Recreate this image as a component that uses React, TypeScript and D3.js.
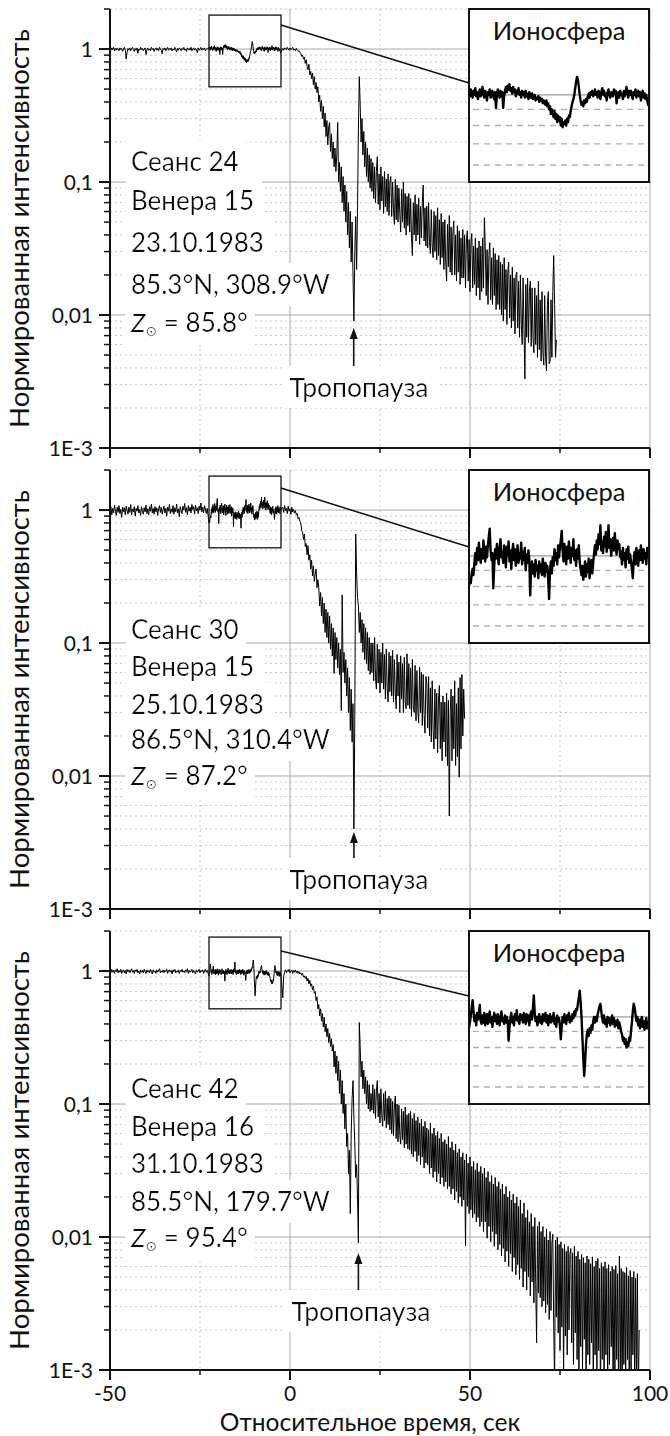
import React from 'react';
import * as d3 from 'd3';

// ---------------- data ----------------
const X_MAJOR = [-50, 0, 50, 100];
const X_MINOR = [-25, 25, 75];
const X_LABELS = ['-50', '0', '50', '100'];
const Y_MAJOR = [1, 0.1, 0.01, 0.001];
const Y_LABELS = ['1', '0,1', '0,01', '1E-3'];
const Y_DOMAIN = [0.001, 2];
const T_DOMAIN = [-50, 100];
const ZOOM_T = [-22.5, -2.5];
const ZOOM_I_MAIN = [0.52, 1.8];
const ZOOM_I_INSET = [0.53, 1.87];
const INSET_GRID_SOLID = [1];
const INSET_GRID_DASHED = [0.9, 0.8, 0.7, 0.6];

const SESSIONS = ['Сеанс 24', 'Сеанс 30', 'Сеанс 42'];
const PROBES = ['Венера 15', 'Венера 15', 'Венера 16'];
const DATES = ['23.10.1983', '25.10.1983', '31.10.1983'];
const COORDS = ['85.3°N, 308.9°W', '86.5°N, 310.4°W', '85.5°N, 179.7°W'];
const ZENITH = ['85.8°', '87.2°', '95.4°'];
const INSET_TITLE = 'Ионосфера';
const TROPO_LABEL = 'Тропопауза';
const Y_TITLE = 'Нормированная интенсивность';
const X_TITLE = 'Относительное время, сек';

// sampling of the series (seconds)
const PRE_T0 = -50, PRE_DT = 0.25;
const IONO_T0 = -22.5, IONO_DT = 0.1;
const POST_T0 = -2, POST_DT = 0.25;

// ---- Session 24 ----
const PRE_24 = [
  1.00, 0.98, 1.02, 0.99, 1.03, 0.97, 1.01, 0.98, 1.02, 1.00,
  0.97, 1.02, 0.99, 1.01, 0.96, 1.00, 1.03, 0.98, 0.84, 0.95,
  1.01, 0.98, 1.02, 0.97, 1.00, 1.03, 0.99, 0.96, 1.01, 0.98,
  1.02, 0.93, 1.00, 0.98, 1.03, 0.99, 1.01, 0.97, 1.00, 1.02,
  0.91, 0.99, 1.02, 0.98, 1.00, 0.97, 1.03, 0.99, 1.01, 0.96,
  1.00, 1.02, 0.98, 1.01, 0.97, 1.03, 1.00, 0.98, 0.92, 1.01,
  0.99, 1.02, 0.97, 1.00, 1.03, 0.98, 1.01, 0.99, 1.02, 0.97,
  1.00, 0.98, 1.03, 0.99, 0.95, 1.01, 0.98, 1.02, 1.00, 0.97,
  1.01, 0.99, 1.03, 0.98, 1.00, 0.96, 1.02, 0.99, 1.01, 0.98,
  1.03, 0.97, 1.00, 1.02, 0.98, 1.01, 0.99, 0.94, 1.02, 0.98,
  1.00, 1.03, 0.98, 1.01, 0.99, 1.02, 0.97, 1.00, 1.01,
];
const IONO_24 = [
  1.02, 0.99, 1.04, 1.01, 0.98, 1.03, 1.00, 1.05, 0.99, 1.02, 0.97, 1.01, 1.04, 0.99, 1.02, 1.06, 1.00, 0.98, 1.03, 1.01,
  0.96, 1.02, 1.00, 1.04, 0.98, 1.01, 1.03, 0.99, 0.97, 1.02, 0.91, 1.00, 1.04, 1.01, 0.98, 1.03, 0.99, 1.02, 0.91, 0.99,
  1.03, 1.06, 1.02, 1.07, 1.04, 1.08, 1.03, 1.05, 1.01, 1.06, 1.02, 1.04, 0.99, 1.03, 1.01, 1.05, 1.00, 1.02, 0.98, 1.03,
  1.00, 1.02, 0.98, 1.03, 0.99, 1.01, 0.97, 1.02, 1.00, 0.98, 1.01, 0.97, 0.99, 1.00, 0.96, 0.98, 0.97, 0.99, 0.95, 0.98,
  0.96, 0.97, 0.94, 0.96, 0.95, 0.93, 0.96, 0.92, 0.94, 0.90, 0.92, 0.87, 0.90, 0.88, 0.85, 0.89, 0.84, 0.87, 0.82, 0.86,
  0.83, 0.85, 0.80, 0.84, 0.79, 0.82, 0.81, 0.83, 0.80, 0.84, 0.82, 0.86, 0.85, 0.89, 0.92, 0.95, 0.97, 1.00, 1.05, 1.10,
  1.14, 1.12, 1.06, 1.00, 0.96, 0.93, 0.95, 0.92, 0.96, 0.94, 0.97, 0.95, 0.99, 1.01, 0.98, 1.02, 1.00, 1.03, 0.99, 1.01,
  1.04, 1.00, 1.02, 0.98, 1.03, 1.01, 0.97, 1.02, 1.05, 1.00, 1.03, 0.99, 1.01, 0.96, 1.02, 1.04, 1.00, 0.98, 1.02, 1.01,
  0.99, 1.04, 1.01, 1.03, 0.94, 1.00, 1.02, 0.98, 1.03, 1.00, 1.01, 0.97, 1.03, 0.99, 1.02, 1.06, 1.01, 0.98, 1.03, 1.00,
  1.03, 0.99, 0.97, 1.02, 1.00, 1.04, 0.98, 1.01, 1.03, 0.99, 1.02, 0.96, 1.00, 1.03, 0.98, 1.01, 0.97, 1.00, 0.96, 0.93,
  0.95,
];
const POST_24 = [
  1.01, 0.98, 1.02, 1.00, 0.99, 1.03, 1.00, 0.98, 1.02, 0.99, 1.01, 1.03, 0.98, 1.00, 0.97, 1.01, 0.98, 0.96, 0.97, 0.94,
  0.93, 0.88, 0.90, 0.84, 0.87, 0.78, 0.83, 0.74, 0.70, 0.77, 0.64, 0.68, 0.60, 0.66, 0.54, 0.62, 0.50, 0.56, 0.47, 0.52,
  0.40, 0.45, 0.34, 0.41, 0.30, 0.37, 0.26, 0.33, 0.22, 0.29, 0.19, 0.26, 0.28, 0.17, 0.23, 0.15, 0.20, 0.13, 0.18, 0.12,
  0.16, 0.28, 0.10, 0.14, 0.085, 0.13, 0.07, 0.11, 0.06, 0.095, 0.05, 0.085, 0.04, 0.07, 0.032, 0.06, 0.025, 0.05, 0.02, 0.009,
  0.03, 0.055, 0.022, 0.06, 0.25, 0.62, 0.38, 0.2, 0.3, 0.16, 0.24, 0.13, 0.2, 0.11, 0.18, 0.1, 0.16, 0.09, 0.15, 0.085,
  0.14, 0.075, 0.13, 0.07, 0.12, 0.155, 0.068, 0.115, 0.062, 0.13, 0.072, 0.11, 0.058, 0.12, 0.065, 0.105, 0.06, 0.115, 0.056, 0.1,
  0.11, 0.055, 0.1, 0.062, 0.048, 0.105, 0.052, 0.095, 0.05, 0.09, 0.058, 0.042, 0.088, 0.05, 0.1, 0.045, 0.082, 0.04, 0.078, 0.047,
  0.082, 0.042, 0.075, 0.038, 0.028, 0.07, 0.04, 0.08, 0.036, 0.068, 0.04, 0.076, 0.034, 0.066, 0.038, 0.07, 0.095, 0.036, 0.064, 0.033,
  0.066, 0.032, 0.07, 0.035, 0.029, 0.062, 0.033, 0.027, 0.06, 0.03, 0.056, 0.026, 0.064, 0.028, 0.052, 0.024, 0.058, 0.027, 0.05, 0.022,
  0.052, 0.025, 0.018, 0.048, 0.023, 0.056, 0.021, 0.046, 0.02, 0.042, 0.051, 0.02, 0.04, 0.018, 0.047, 0.021, 0.043, 0.017, 0.038, 0.019,
  0.044, 0.019, 0.04, 0.016, 0.036, 0.043, 0.018, 0.037, 0.015, 0.035, 0.041, 0.016, 0.033, 0.017, 0.038, 0.014, 0.032, 0.016, 0.036, 0.013,
  0.033, 0.015, 0.038, 0.016, 0.054, 0.032, 0.014, 0.031, 0.012, 0.028, 0.035, 0.013, 0.027, 0.012, 0.032, 0.014, 0.029, 0.011, 0.026, 0.012,
  0.028, 0.011, 0.025, 0.01, 0.024, 0.009, 0.027, 0.011, 0.022, 0.0085, 0.021, 0.025, 0.0095, 0.02, 0.008, 0.023, 0.009, 0.019, 0.0072, 0.02,
  0.021, 0.008, 0.018, 0.0068, 0.02, 0.0085, 0.006, 0.019, 0.0078, 0.0033, 0.017, 0.0068, 0.019, 0.0062, 0.015, 0.018, 0.0058, 0.016, 0.0068, 0.0052,
  0.016, 0.006, 0.014, 0.0048, 0.018, 0.0055, 0.013, 0.0045, 0.015, 0.0052, 0.0042, 0.014, 0.0048, 0.0038, 0.012, 0.015, 0.0043, 0.0045, 0.013, 0.0048,
  0.015, 0.028, 0.012, 0.0048, 0.0065,
];

// ---- Session 30 ----
const PRE_30 = [
  0.97, 1.06, 0.92, 1.03, 0.95, 1.09, 0.98, 0.91, 1.05, 0.96,
  1.08, 0.94, 1.01, 0.88, 1.05, 0.97, 1.04, 0.92, 1.07, 0.99,
  0.93, 1.05, 0.96, 1.10, 0.92, 1.02, 0.97, 1.06, 0.90, 1.03,
  0.98, 1.08, 0.95, 1.01, 0.91, 1.06, 0.99, 0.93, 1.04, 0.97,
  1.09, 0.94, 1.02, 0.92, 1.06, 0.98, 1.11, 0.95, 1.03, 0.93,
  1.06, 0.97, 1.04, 0.91, 1.02, 1.08, 0.96, 1.05, 0.93, 1.01,
  1.07, 0.95, 1.03, 0.90, 1.05, 0.98, 1.10, 0.94, 1.02, 0.96,
  1.08, 0.93, 1.04, 0.97, 1.11, 0.95, 1.02, 0.89, 1.06, 0.99,
  0.94, 1.07, 1.00, 1.12, 0.96, 1.04, 0.92, 1.08, 0.98, 1.05,
  0.95, 1.10, 1.01, 1.06, 0.93, 1.09, 0.99, 1.04, 0.94, 1.07,
  1.00, 1.13, 0.97, 1.05, 0.95, 1.08, 1.02, 0.94, 1.03,
];
const IONO_30 = [
  0.80, 0.84, 0.82, 0.88, 0.91, 0.87, 0.95, 1.02, 0.94, 1.06, 0.97, 1.10, 1.01, 0.95, 1.05, 0.98, 1.12, 1.03, 0.96, 1.07,
  0.99, 1.08, 1.15, 1.22, 1.04, 0.97, 1.02, 0.79, 0.93, 1.05, 0.98, 1.09, 1.01, 0.94, 1.06, 1.13, 0.99, 1.03, 0.95, 1.08,
  1.02, 0.92, 1.07, 1.00, 1.11, 0.96, 1.04, 0.91, 1.03, 1.09, 0.97, 1.05, 0.93, 1.00, 1.08, 0.95, 1.02, 0.98, 1.10, 0.94,
  1.03, 0.97, 1.06, 0.90, 1.01, 0.95, 1.04, 0.98, 0.75, 0.92, 0.96, 0.88, 0.94, 0.86, 0.97, 0.90, 0.93, 0.85, 0.96, 0.89,
  0.94, 0.87, 0.98, 0.91, 0.86, 0.95, 0.89, 0.93, 0.84, 0.73, 0.90, 0.96, 0.88, 0.99, 0.93, 1.05, 0.97, 1.02, 0.94, 1.08,
  0.99, 1.06, 1.12, 1.20, 1.04, 0.96, 1.09, 1.01, 0.94, 1.07, 0.98, 1.11, 1.03, 0.95, 1.06, 1.00, 1.13, 0.97, 1.04, 0.93,
  1.05, 0.98, 1.08, 0.96, 0.91, 0.87, 0.93, 0.84, 0.90, 0.96, 0.86, 0.94, 0.89, 0.98, 0.85, 0.92, 0.97, 0.88, 0.95, 1.02,
  1.08, 1.01, 1.12, 1.05, 1.17, 1.09, 1.25, 1.04, 1.11, 1.02, 1.15, 1.07, 1.19, 1.03, 1.10, 1.25, 1.06, 1.13, 1.00, 1.09,
  1.14, 1.04, 1.18, 1.07, 1.01, 1.12, 1.05, 1.09, 0.99, 1.03, 0.94, 1.06, 0.97, 1.02, 0.92, 1.05, 0.98, 1.07, 0.95, 1.01,
  0.96, 0.91, 0.85, 0.97, 1.03, 0.94, 1.06, 0.99, 0.93, 1.04, 0.97, 1.08, 1.00, 0.95, 1.05, 0.98, 1.02, 0.94, 1.06, 0.99,
  1.01,
];
const POST_30 = [
  1.05, 0.96, 1.08, 0.99, 1.03, 0.94, 1.07, 0.98, 1.02, 0.93, 1.05, 0.97, 1.01, 0.95, 0.99, 0.92, 0.94, 0.86, 0.88, 0.82,
  0.8, 0.7, 0.68, 0.6, 0.66, 0.53, 0.56, 0.46, 0.54, 0.42, 0.46, 0.36, 0.42, 0.32, 0.38, 0.29, 0.33, 0.36, 0.26, 0.3,
  0.26, 0.19, 0.24, 0.16, 0.22, 0.14, 0.2, 0.12, 0.18, 0.11, 0.17, 0.1, 0.16, 0.09, 0.14, 0.08, 0.13, 0.059, 0.12, 0.075,
  0.11, 0.065, 0.1, 0.058, 0.09, 0.031, 0.23, 0.06, 0.085, 0.05, 0.075, 0.04, 0.065, 0.03, 0.055, 0.022, 0.045, 0.018, 0.035, 0.004,
  0.028, 0.66, 0.34, 0.22, 0.19, 0.12, 0.17, 0.1, 0.15, 0.085, 0.14, 0.075, 0.13, 0.07, 0.12, 0.062, 0.11, 0.058, 0.1, 0.06,
  0.1, 0.052, 0.11, 0.055, 0.045, 0.098, 0.05, 0.09, 0.042, 0.085, 0.05, 0.1, 0.045, 0.082, 0.038, 0.09, 0.046, 0.036, 0.085, 0.043,
  0.08, 0.04, 0.088, 0.036, 0.075, 0.042, 0.032, 0.082, 0.04, 0.072, 0.03, 0.08, 0.038, 0.07, 0.03, 0.078, 0.036, 0.032, 0.083, 0.034,
  0.07, 0.032, 0.065, 0.028, 0.075, 0.033, 0.03, 0.068, 0.026, 0.062, 0.031, 0.025, 0.066, 0.03, 0.06, 0.024, 0.058, 0.029, 0.021, 0.056,
  0.05, 0.023, 0.056, 0.02, 0.046, 0.018, 0.052, 0.022, 0.016, 0.045, 0.019, 0.042, 0.015, 0.038, 0.048, 0.016, 0.036, 0.013, 0.04, 0.018,
  0.036, 0.014, 0.042, 0.012, 0.037, 0.005, 0.03, 0.045, 0.013, 0.04, 0.016, 0.052, 0.012, 0.035, 0.014, 0.046, 0.0098, 0.055, 0.016, 0.058,
  0.02, 0.045, 0.027,
];

// ---- Session 42 ----
const PRE_42 = [
  1.00, 0.97, 1.03, 0.98, 1.01, 0.96, 1.02, 0.99, 1.04, 0.97,
  1.01, 0.98, 1.03, 0.96, 1.00, 1.02, 0.97, 1.01, 0.95, 1.03,
  0.99, 1.02, 0.97, 1.00, 1.04, 0.98, 1.01, 0.96, 1.02, 0.99,
  1.03, 0.97, 1.00, 0.95, 1.02, 0.98, 1.01, 0.97, 1.03, 0.99,
  0.96, 1.02, 0.98, 1.01, 0.97, 1.03, 0.99, 0.95, 1.02, 0.98,
  1.00, 0.96, 1.02, 0.98, 1.01, 1.04, 0.97, 1.00, 0.98, 1.02,
  0.97, 1.01, 0.99, 1.03, 0.96, 1.00, 1.02, 0.98, 1.01, 0.95,
  1.02, 0.99, 1.03, 0.97, 1.00, 0.98, 1.02, 0.96, 1.01, 0.99,
  1.03, 0.98, 1.00, 0.97, 1.02, 0.99, 1.04, 0.96, 1.01, 0.98,
  1.00, 1.03, 0.97, 1.01, 0.99, 0.95, 1.02, 0.98, 1.00, 1.03,
  0.97, 1.01, 0.99, 1.02, 0.96, 1.00, 1.03, 0.98, 1.01,
];
const IONO_42 = [
  0.92, 0.96, 1.01, 1.07, 1.13, 1.04, 0.97, 1.01, 0.94, 1.03, 0.98, 1.02, 1.09, 0.97, 0.95, 1.01, 0.96, 1.03, 0.94, 0.99,
  1.02, 0.95, 0.99, 1.04, 0.96, 1.00, 0.93, 0.98, 1.03, 0.97, 1.01, 0.95, 1.02, 0.98, 0.94, 1.00, 1.04, 0.97, 0.99, 0.95,
  1.01, 0.96, 1.00, 0.97, 0.84, 0.93, 0.99, 1.03, 0.96, 1.00, 0.94, 1.02, 0.98, 1.05, 0.97, 1.00, 0.95, 1.02, 0.98, 1.01,
  0.96, 1.03, 0.99, 0.95, 1.02, 0.97, 1.01, 0.94, 1.00, 1.04, 0.98, 1.06, 1.17, 1.03, 0.97, 1.00, 0.94, 0.99, 1.02, 0.96,
  1.00, 0.95, 1.02, 0.97, 0.99, 1.03, 0.96, 1.01, 0.94, 0.98, 1.02, 0.96, 1.00, 0.97, 1.03, 0.95, 0.99, 0.93, 1.01, 0.97,
  0.99, 0.94, 0.85, 0.93, 1.00, 0.96, 1.02, 0.97, 0.95, 1.01, 0.98, 1.03, 0.96, 1.00, 0.97, 1.02, 0.99, 1.04, 1.01, 1.06,
  1.05, 1.10, 1.15, 1.21, 1.12, 1.00, 0.86, 0.74, 0.65, 0.72, 0.82, 0.88, 0.91, 0.87, 0.92, 0.89, 0.94, 0.91, 0.97, 1.00,
  0.96, 1.00, 0.97, 1.02, 1.05, 1.08, 1.10, 1.04, 0.99, 0.96, 1.01, 0.95, 0.98, 0.93, 1.00, 0.96, 0.99, 0.94, 0.98, 1.01,
  0.95, 0.99, 0.93, 0.97, 0.94, 0.98, 0.92, 0.96, 0.93, 0.90, 0.88, 0.84, 0.86, 0.82, 0.85, 0.80, 0.83, 0.81, 0.86, 0.84,
  0.90, 0.96, 1.04, 1.10, 1.07, 1.02, 0.97, 1.00, 0.94, 0.98, 0.92, 0.96, 1.00, 0.93, 0.97, 0.91, 0.95, 0.99, 0.92, 0.96,
  0.94,
];
const POST_42 = [
  0.63, 0.92, 0.98, 1.02, 0.97, 1.01, 0.99, 1.03, 0.97, 1.00, 1.02, 0.96, 1.01, 0.98, 1.02, 0.97, 1.00, 0.96, 0.99, 0.95,
  0.97, 0.93, 0.96, 0.9, 0.92, 0.88, 0.91, 0.84, 0.88, 0.8, 0.85, 0.77, 0.8, 0.72, 0.77, 0.68, 0.7, 0.6, 0.64, 0.52,
  0.56, 0.46, 0.52, 0.42, 0.48, 0.38, 0.45, 0.35, 0.4, 0.32, 0.37, 0.29, 0.34, 0.27, 0.31, 0.25, 0.28, 0.19, 0.25, 0.17,
  0.23, 0.15, 0.21, 0.12, 0.18, 0.1, 0.15, 0.085, 0.12, 0.065, 0.1, 0.048, 0.06, 0.03, 0.045, 0.015, 0.06, 0.11, 0.15, 0.08,
  0.05, 0.028, 0.035, 0.02, 0.009, 0.41, 0.27, 0.16, 0.21, 0.13, 0.18, 0.12, 0.16, 0.1, 0.15, 0.092, 0.14, 0.088, 0.12, 0.09,
  0.14, 0.085, 0.13, 0.078, 0.125, 0.15, 0.08, 0.12, 0.072, 0.13, 0.082, 0.068, 0.12, 0.075, 0.125, 0.066, 0.11, 0.07, 0.115, 0.064,
  0.11, 0.06, 0.105, 0.058, 0.095, 0.115, 0.055, 0.1, 0.052, 0.098, 0.058, 0.05, 0.092, 0.054, 0.088, 0.047, 0.095, 0.05, 0.083, 0.046,
  0.085, 0.045, 0.088, 0.042, 0.078, 0.04, 0.085, 0.044, 0.075, 0.037, 0.08, 0.041, 0.072, 0.035, 0.077, 0.04, 0.068, 0.033, 0.074, 0.036,
  0.066, 0.035, 0.064, 0.03, 0.072, 0.033, 0.06, 0.028, 0.066, 0.031, 0.058, 0.026, 0.062, 0.03, 0.055, 0.025, 0.06, 0.028, 0.052, 0.024,
  0.054, 0.026, 0.05, 0.023, 0.057, 0.024, 0.047, 0.021, 0.052, 0.023, 0.045, 0.019, 0.05, 0.022, 0.043, 0.018, 0.046, 0.02, 0.04, 0.017,
  0.043, 0.019, 0.038, 0.0086, 0.042, 0.017, 0.036, 0.015, 0.04, 0.016, 0.034, 0.014, 0.037, 0.015, 0.032, 0.013, 0.036, 0.014, 0.031, 0.012,
  0.034, 0.013, 0.03, 0.011, 0.033, 0.013, 0.028, 0.0098, 0.031, 0.012, 0.026, 0.0092, 0.029, 0.011, 0.025, 0.0085, 0.028, 0.0105, 0.024, 0.008,
  0.026, 0.0088, 0.023, 0.0072, 0.025, 0.0082, 0.021, 0.0065, 0.024, 0.0078, 0.02, 0.006, 0.022, 0.0075, 0.019, 0.0055, 0.021, 0.007, 0.018, 0.0052,
  0.02, 0.0062, 0.017, 0.0048, 0.019, 0.0058, 0.015, 0.0042, 0.018, 0.0055, 0.014, 0.004, 0.016, 0.005, 0.013, 0.0036, 0.015, 0.0046, 0.012, 0.0032,
  0.014, 0.0045, 0.0016, 0.012, 0.0038, 0.013, 0.0035, 0.011, 0.003, 0.012, 0.0033, 0.01, 0.0027, 0.0115, 0.0031, 0.0095, 0.0024, 0.011, 0.0028, 0.009,
  0.0105, 0.0022, 0.0008, 0.0095, 0.0025, 0.01, 0.0019, 0.0088, 0.0014, 0.0092, 0.0021, 0.0082, 0.0009, 0.0088, 0.0018, 0.0078, 0.0013, 0.0085, 0.002, 0.0074,
  0.0082, 0.0016, 0.0076, 0.0011, 0.0085, 0.0019, 0.0072, 0.0012, 0.0078, 0.0008, 0.0068, 0.0015, 0.0074, 0.001, 0.007, 0.0017, 0.0064, 0.0007, 0.0072, 0.0013,
  0.0068, 0.0011, 0.0063, 0.0016, 0.0071, 0.0007, 0.006, 0.0013, 0.0066, 0.0009, 0.0069, 0.0014, 0.0058, 0.0006, 0.0064, 0.0012, 0.006, 0.0008, 0.0065, 0.0013,
  0.0058, 0.0007, 0.0062, 0.0011, 0.0055, 0.0015, 0.006, 0.0006, 0.0057, 0.001, 0.0061, 0.0012, 0.0053, 0.0008, 0.0072, 0.001, 0.0058, 0.0006, 0.0055, 0.0011,
  0.0054, 0.0008, 0.0059, 0.0012, 0.0051, 0.0005, 0.0056, 0.001, 0.005, 0.0013, 0.0055, 0.0007, 0.0049, 0.0009, 0.0053, 0.0006, 0.002,
];

const PRE = [PRE_24, PRE_30, PRE_42];
const IONO = [IONO_24, IONO_30, IONO_42];
const POST = [POST_24, POST_30, POST_42];

// tropopause time (s) marked by the arrow
const TROPO_T = [17.7, 17.75, 19.0];

// ---------------- layout ----------------
const L = {
  W: 670, H: 1436,
  left: 110, right: 650, top0: 9, gap: 461, h: 439,
  insetX0: 469, insetX1: 649, insetH: 173,
  textX: 131,
  textRows: [[153, 192, 234, 276, 314], [160, 197, 235, 270, 306], [158, 196, 233, 271, 307]],
  tropo: [
    { head: 319, tail: 359, label: 379, lx: 359 },
    { head: 362, tail: 394, label: 410, lx: 359 },
    { head: 322, tail: 361, label: 381, lx: 361 },
  ],
  linkFrom: [16, 18, 20],
  linkTo: [74, 77, 65],
};
const FONT = "Lato, 'Noto Sans', 'DejaVu Sans', sans-serif";
const GRID_SOLID = '#a9a9a9';
const GRID_DOT = '#c8c8c8';

type Pt = { t: number; v: number };

function buildSeries(i: number): Pt[] {
  const a = PRE[i].map((v, k) => ({ t: PRE_T0 + k * PRE_DT, v }));
  const b = IONO[i].map((v, k) => ({ t: IONO_T0 + k * IONO_DT, v }));
  const c = POST[i].map((v, k) => ({ t: POST_T0 + k * POST_DT, v }));
  return [...a, ...b, ...c];
}

const Y_MINOR: number[] = [];
[0.001, 0.01, 0.1, 1].forEach((dec) => {
  for (let k = 2; k <= 9; k++) {
    const v = k * dec;
    if (v <= 2.0001) Y_MINOR.push(v);
  }
});

function Panel({ idx }: { idx: number }) {
  const top = L.top0 + idx * L.gap;
  const bottom = top + L.h;
  const x = d3.scaleLinear().domain(T_DOMAIN).range([L.left, L.right]);
  const y = d3.scaleLog().domain(Y_DOMAIN).range([bottom, top]);
  const ix = d3.scaleLinear().domain(ZOOM_T).range([L.insetX0, L.insetX1]);
  const iy = d3.scaleLog().domain(ZOOM_I_INSET).range([top + L.insetH, top]);
  const series = buildSeries(idx);
  const line = d3.line<Pt>().x((d) => x(d.t)).y((d) => y(d.v));
  const iline = d3.line<Pt>().x((d) => ix(d.t)).y((d) => iy(d.v));
  const insetPts = IONO[idx].map((v, k) => ({ t: IONO_T0 + k * IONO_DT, v }));
  const tr = L.tropo[idx];
  const ax = x(TROPO_T[idx]);
  const rows = L.textRows[idx];
  const lineTexts = [SESSIONS[idx], PROBES[idx], DATES[idx], COORDS[idx]];
  const fs = 26;

  return (
    <g>
      <defs>
        <clipPath id={`clip${idx}`}>
          <rect x={L.left} y={top} width={L.right - L.left} height={L.h} />
        </clipPath>
        <clipPath id={`iclip${idx}`}>
          <rect x={L.insetX0} y={top} width={L.insetX1 - L.insetX0} height={L.insetH} />
        </clipPath>
      </defs>
      {Y_MINOR.map((v, i) => (
        <line key={`ym${i}`} x1={L.left} x2={L.right} y1={y(v)} y2={y(v)} stroke={GRID_DOT} strokeWidth={1} strokeDasharray="2,3" />
      ))}
      {X_MINOR.map((t, i) => (
        <line key={`xm${i}`} x1={x(t)} x2={x(t)} y1={top} y2={bottom} stroke={GRID_DOT} strokeWidth={1} strokeDasharray="2,3" />
      ))}
      {Y_MAJOR.slice(0, 3).map((v, i) => (
        <line key={`yM${i}`} x1={L.left} x2={L.right + 1} y1={y(v)} y2={y(v)} stroke={GRID_SOLID} strokeWidth={1} />
      ))}
      {X_MAJOR.slice(1).map((t, i) => (
        <line key={`xM${i}`} x1={x(t)} x2={x(t)} y1={top} y2={bottom} stroke={GRID_SOLID} strokeWidth={1} />
      ))}
      <g fontFamily={FONT} fontSize={fs} fill="#111">
        {lineTexts.map((s, i) => (
          <text key={i} x={L.textX} y={top + rows[i] + fs * 0.36} filter="url(#wbg)">{s}</text>
        ))}
        <text x={L.textX} y={top + rows[4] + fs * 0.36} filter="url(#wbg)">
          <tspan fontStyle="italic">Z</tspan>
          <tspan fontSize={14} dy={4}>⊙</tspan>
          <tspan dy={-4}>{` = ${ZENITH[idx]}`}</tspan>
        </text>
      </g>
      <path d={line(series) || ''} fill="none" stroke="#000" strokeWidth={1} clipPath={`url(#clip${idx})`} />
      <rect x={x(ZOOM_T[0])} y={y(ZOOM_I_MAIN[1])} width={x(ZOOM_T[1]) - x(ZOOM_T[0])} height={y(ZOOM_I_MAIN[0]) - y(ZOOM_I_MAIN[1])} fill="none" stroke="#111" strokeWidth={1.3} />
      <line x1={x(ZOOM_T[1])} y1={top + L.linkFrom[idx]} x2={L.insetX0} y2={top + L.linkTo[idx]} stroke="#111" strokeWidth={1.5} />
      <rect x={L.insetX0} y={top} width={L.insetX1 - L.insetX0} height={L.insetH} fill="#fff" />
      {INSET_GRID_DASHED.map((v, i) => (
        <line key={`id${i}`} x1={L.insetX0 + 4} x2={L.insetX1 - 4} y1={iy(v)} y2={iy(v)} stroke="#b0b0b0" strokeWidth={1.4} strokeDasharray="6,5" />
      ))}
      {INSET_GRID_SOLID.map((v, i) => (
        <line key={`is${i}`} x1={L.insetX0} x2={L.insetX1} y1={iy(v)} y2={iy(v)} stroke="#9a9a9a" strokeWidth={1.4} />
      ))}
      <path d={iline(insetPts) || ''} fill="none" stroke="#000" strokeWidth={2.4} strokeLinejoin="round" clipPath={`url(#iclip${idx})`} />
      <rect x={L.insetX0} y={top} width={L.insetX1 - L.insetX0} height={L.insetH} fill="none" stroke="#111" strokeWidth={2} />
      <text x={(L.insetX0 + L.insetX1) / 2} y={top + 31} fontFamily={FONT} fontSize={25.5} textAnchor="middle" fill="#111">{INSET_TITLE}</text>
      <line x1={L.left} x2={L.left} y1={top} y2={bottom + 1} stroke="#111" strokeWidth={2} />
      <line x1={L.left - 1} x2={L.right} y1={bottom} y2={bottom} stroke="#111" strokeWidth={2} />
      {Y_MAJOR.map((v, i) => (
        <line key={`ytM${i}`} x1={L.left - 11} x2={L.left} y1={y(v)} y2={y(v)} stroke="#111" strokeWidth={2} />
      ))}
      {Y_MINOR.map((v, i) => (
        <line key={`ytm${i}`} x1={L.left - 6} x2={L.left} y1={y(v)} y2={y(v)} stroke="#111" strokeWidth={1.5} />
      ))}
      {X_MAJOR.map((t, i) => (
        <line key={`xtM${i}`} x1={x(t)} x2={x(t)} y1={bottom} y2={bottom + 10} stroke="#111" strokeWidth={2} />
      ))}
      {X_MINOR.map((t, i) => (
        <line key={`xtm${i}`} x1={x(t)} x2={x(t)} y1={bottom} y2={bottom + 5} stroke="#111" strokeWidth={1.5} />
      ))}
      <g fontFamily={FONT} fontSize={21} fill="#111" textAnchor="end">
        {Y_MAJOR.map((v, i) => (
          <text key={`yl${i}`} x={L.left - 17} y={y(v) + 7.5}>{Y_LABELS[i]}</text>
        ))}
      </g>
      {idx === 2 && (
        <g fontFamily={FONT} fontSize={21} fill="#111" textAnchor="middle">
          {X_MAJOR.map((t, i) => (
            <text key={`xl${i}`} x={x(t)} y={bottom + 31}>{X_LABELS[i]}</text>
          ))}
        </g>
      )}
      <text transform={`translate(${29},${top + L.h / 2}) rotate(-90)`} textAnchor="middle" fontFamily={FONT} fontSize={27.5} fill="#111">{Y_TITLE}</text>
      <line x1={ax} x2={ax} y1={top + tr.tail} y2={top + tr.head + 8} stroke="#111" strokeWidth={1.6} />
      <path d={`M${ax},${top + tr.head} l-4,11 l8,0 z`} fill="#111" />
      <text x={tr.lx} y={top + tr.label + 9} fontFamily={FONT} fontSize={26.5} textAnchor="middle" fill="#111" filter="url(#wbg)">{TROPO_LABEL}</text>
    </g>
  );
}

export default function App() {
  return (
    <svg width={L.W} height={L.H} viewBox={`0 0 ${L.W} ${L.H}`} style={{ position: 'absolute', left: 0, top: 0, background: '#fff' }}>
      <defs>
        <filter id="wbg" x="-0.04" y="-0.15" width="1.1" height="1.3">
          <feFlood floodColor="#fff" />
          <feComposite in="SourceGraphic" operator="over" />
        </filter>
      </defs>
      <rect x={0} y={0} width={L.W} height={L.H} fill="#fff" />
      {[0, 1, 2].map((i) => (
        <Panel key={i} idx={i} />
      ))}
      <text x={370} y={1430.5} textAnchor="middle" fontFamily={FONT} fontSize={24.5} fill="#111">{X_TITLE}</text>
    </svg>
  );
}
